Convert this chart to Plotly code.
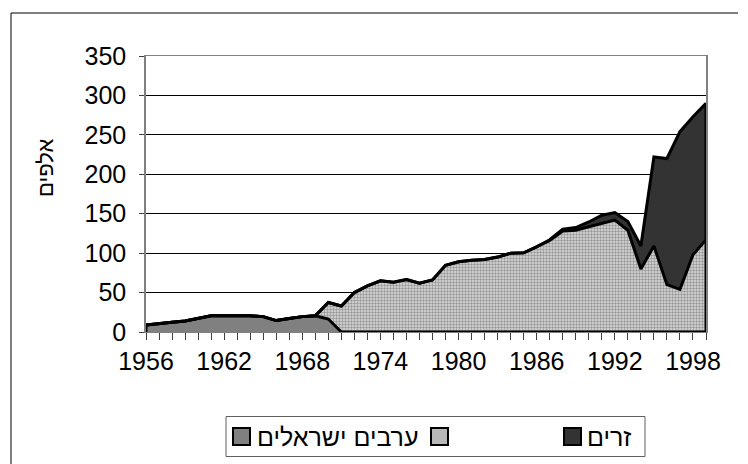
import plotly.graph_objects as go

years = list(range(1956, 2000))
label_years = list(range(1956, 1999, 6))

israeli_arabs = [9, 11, 12.5, 14, 17, 20.5, 20.5, 20.5, 20.5, 19.5, 14.5, 17, 19.5, 20.5, 16.5, 0] + [0] * 28
territories = [0] * 13 + [0, 21, 33, 50, 58.5, 65, 63, 66.5, 62, 66, 84.5, 89, 91, 92, 95, 100,
                          100.5, 108, 116, 128, 129, 133.5, 138, 142, 129, 80, 109, 60, 54, 98, 117]
foreign = [0] * 31 + [1, 2.5, 3.5, 6, 10, 9.5, 11, 29, 113, 160, 200, 175, 173]

names = ["ערבים ישראלים", "", "זרים"]
y_title = "אלפים"

FONT = "Arial, Liberation Sans, sans-serif"

OFF = 8  # page body margin
W, H = 740, 456
L, R, T, B = 138, 42, 48, 132
PW, PH = W - L - R, H - T - B


def px(X):
    return (X - OFF - L) / PW


def py(Y):
    return (H - B - (Y - OFF)) / PH


fig = go.Figure()
fig.add_trace(go.Scatter(x=years, y=israeli_arabs, name=names[0], stackgroup="one",
                         mode="lines", line=dict(color="black", width=3),
                         fillcolor="#808080", showlegend=False))
fig.add_trace(go.Scatter(x=years, y=territories, name=names[1], stackgroup="one",
                         mode="lines", line=dict(color="black", width=3),
                         fillcolor="#c0c0c0",
                         fillpattern=dict(shape=".", fgcolor="#505050", bgcolor="#dcdcdc",
                                          size=3, solidity=0.5),
                         showlegend=False))
fig.add_trace(go.Scatter(x=years, y=foreign, name=names[2], stackgroup="one",
                         mode="lines", line=dict(color="black", width=3),
                         fillcolor="#333333", showlegend=False))

# closing edges of the stacked area (Excel-style outline)
total_first = israeli_arabs[0] + territories[0] + foreign[0]
total_last = israeli_arabs[-1] + territories[-1] + foreign[-1]
fig.add_trace(go.Scatter(x=[years[0], years[0]], y=[0, total_first], mode="lines",
                         line=dict(color="black", width=3), showlegend=False, hoverinfo="skip"))
fig.add_trace(go.Scatter(x=[years[-1], years[-1]], y=[0, total_last], mode="lines",
                         line=dict(color="black", width=3), showlegend=False, hoverinfo="skip"))

shapes = []
# outer chart border (left and top)
shapes.append(dict(type="line", xref="paper", yref="paper", x0=px(11), x1=px(11), y0=py(13), y1=py(470),
                   line=dict(color="black", width=1)))
shapes.append(dict(type="line", xref="paper", yref="paper", x0=px(11), x1=px(738), y0=py(13), y1=py(13),
                   line=dict(color="black", width=1)))
# legend frame
shapes.append(dict(type="rect", xref="paper", yref="paper", x0=px(226), x1=px(645), y0=py(416.5), y1=py(456.5),
                   line=dict(color="#606060", width=1), fillcolor="white"))
# legend swatches
swatches = [(233, "#808080"), (431, "#b8b8b8"), (564, "#333333")]
for x0, col in swatches:
    shapes.append(dict(type="rect", xref="paper", yref="paper", x0=px(x0), x1=px(x0 + 17),
                       y0=py(428), y1=py(445), line=dict(color="black", width=2), fillcolor=col))

annotations = [
    dict(text=y_title, xref="paper", yref="paper", x=px(45), y=py(168), textangle=-90,
         xanchor="center", yanchor="middle",
         showarrow=False, font=dict(family=FONT, size=22, color="black")),
    dict(text=names[0], xref="paper", yref="paper", x=px(255), y=py(436.5), xanchor="left",
         yanchor="middle", showarrow=False, font=dict(family=FONT, size=25, color="black")),
    dict(text=names[2], xref="paper", yref="paper", x=px(585), y=py(436.5), xanchor="left",
         yanchor="middle", showarrow=False, font=dict(family=FONT, size=25, color="black")),
]

fig.update_layout(
    width=W, height=H,
    margin=dict(l=L, r=R, t=T, b=B),
    paper_bgcolor="white", plot_bgcolor="white",
    showlegend=False,
    shapes=shapes,
    annotations=annotations,
    font=dict(family=FONT, color="black"),
)

fig.update_xaxes(
    range=[1956, 1999], tickmode="array", tickvals=label_years,
    ticktext=[str(y) for y in label_years],
    ticks="outside", ticklen=7, tickcolor="#404040", tickwidth=1,
    minor=dict(dtick=1, tick0=1956, ticks="outside", ticklen=7, tickcolor="#404040", showgrid=False),
    showgrid=False, zeroline=False,
    showline=True, linecolor="#808080", linewidth=1, mirror=True,
    tickfont=dict(family=FONT, size=25, color="black"),
)
fig.update_yaxes(
    range=[0, 350], tickmode="array", tickvals=list(range(0, 351, 50)),
    ticks="outside", ticklen=5, tickcolor="#404040",
    showgrid=True, gridcolor="black", gridwidth=1, zeroline=False,
    showline=True, linecolor="#808080", linewidth=1.5, mirror=True,
    tickfont=dict(family=FONT, size=25, color="black"),
    ticklabelstandoff=8,
)

fig.write_html("out.html")
